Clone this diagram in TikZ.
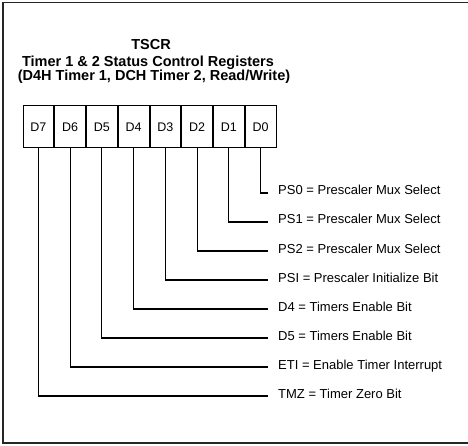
\documentclass[tikz,border=0pt]{standalone}
\usepackage{fontspec}
\setmainfont{Liberation Sans}
\usepackage{tikz}
\usetikzlibrary{
    positioning
}
\tikzset{
    bitcell/.style={
        draw,
        rectangle,
        minimum width=30.75pt,
        minimum height=42pt,
        inner sep=0pt,
        line width=1pt,
        font=\fontsize{12.5}{14}\selectfont
    },
    bitlab/.style={
        anchor=west,
        inner xsep=10pt,
        inner ysep=0pt,
        text height=8pt,
        text depth=4pt,
        font=\fontsize{13}{15}\selectfont
    },
    titletext/.style={
        anchor=base,
        inner sep=0pt,
        font=\fontsize{14.5}{16}\selectfont\bfseries
    },
    wire/.style={
        line width=1.1pt
    }
}

\begin{document}
\begin{tikzpicture}[
    x=1pt,
    y=-1pt,
    frameline/.style={
        line width=1.2pt,
        draw=black!85
    }
]
\useasboundingbox (0,0) rectangle (468,446);

\draw[frameline] (468,2.5) -- (3,2.5) -- (3,443) -- (468,443);

\node[titletext] (tscr) at (151,50) {TSCR};
\node[titletext] (sub1) at (148,67) {Timer 1 \& 2 Status Control Registers};
\node[titletext] (sub2) at (154,80.5) {(D4H Timer 1, DCH Timer 2, Read/Write)};

\node[bitcell] (d7) at (38.4,127) {D7};
\node[bitcell, right=0pt of d7] (d6) {D6};
\node[bitcell, right=0pt of d6] (d5) {D5};
\node[bitcell, right=0pt of d5] (d4) {D4};
\node[bitcell, right=0pt of d4] (d3) {D3};
\node[bitcell, right=0pt of d3] (d2) {D2};
\node[bitcell, right=0pt of d2] (d1) {D1};
\node[bitcell, right=0pt of d1] (d0) {D0};

\node[bitlab] (ps0) at (268,193) {PS0 = Prescaler Mux Select};
\node[bitlab, below=29pt of ps0.west, anchor=west] (ps1) {PS1 = Prescaler Mux Select};
\node[bitlab, below=29pt of ps1.west, anchor=west] (ps2) {PS2 = Prescaler Mux Select};
\node[bitlab, below=29pt of ps2.west, anchor=west] (psi) {PSI = Prescaler Initialize Bit};
\node[bitlab, below=29pt of psi.west, anchor=west] (en4) {D4 = Timers Enable Bit};
\node[bitlab, below=29pt of en4.west, anchor=west] (en5) {D5 = Timers Enable Bit};
\node[bitlab, below=29pt of en5.west, anchor=west] (eti) {ETI = Enable Timer Interrupt};
\node[bitlab, below=29pt of eti.west, anchor=west] (tmz) {TMZ = Timer Zero Bit};

\draw[wire] (d0.south) |- (ps0.west);
\draw[wire] (d1.south) |- (ps1.west);
\draw[wire] (d2.south) |- (ps2.west);
\draw[wire] (d3.south) |- (psi.west);
\draw[wire] (d4.south) |- (en4.west);
\draw[wire] (d5.south) |- (en5.west);
\draw[wire] (d6.south) |- (eti.west);
\draw[wire] (d7.south) |- (tmz.west);

\end{tikzpicture}
\end{document}
